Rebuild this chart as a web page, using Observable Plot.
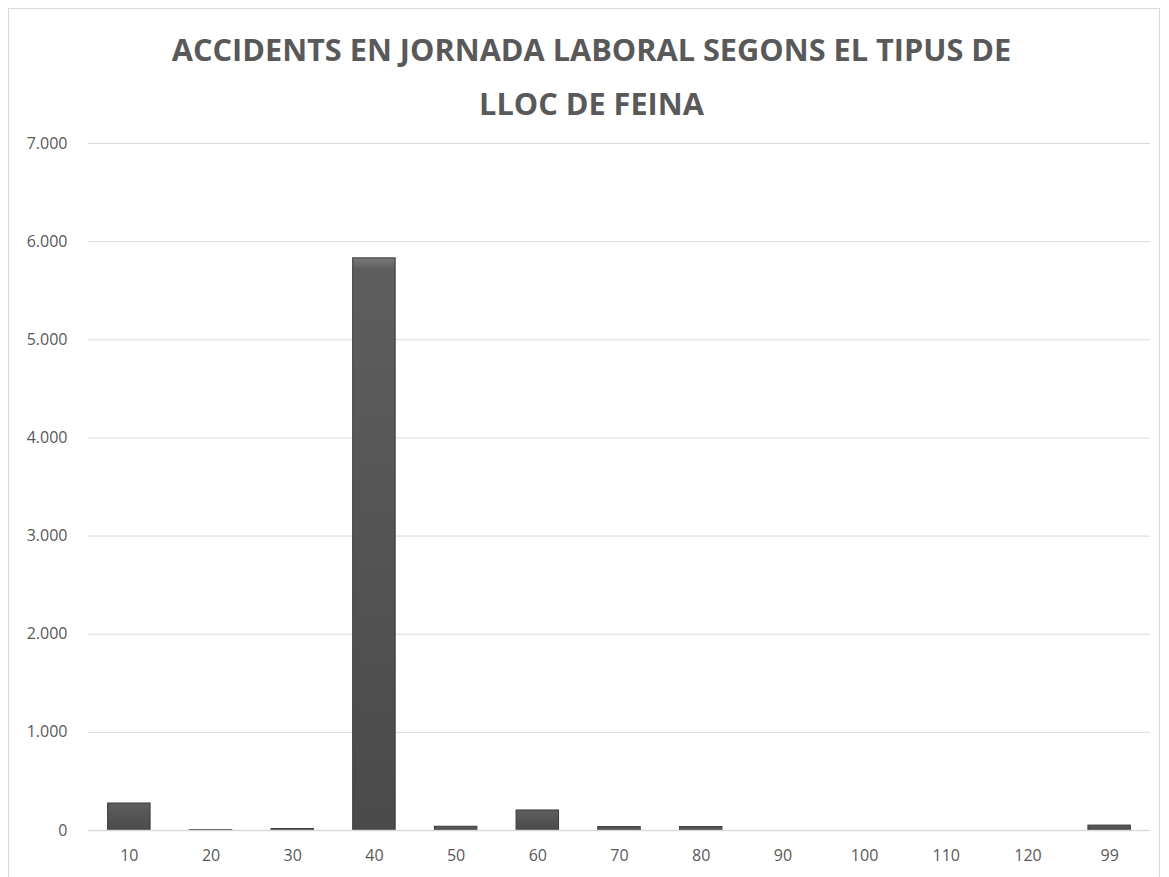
<!DOCTYPE html>
<html>
<head>
<meta charset="utf-8">
<script src="https://cdn.jsdelivr.net/npm/d3@7"></script>
<script src="https://cdn.jsdelivr.net/npm/@observablehq/plot@0.6"></script>
<style>
  html, body { margin: 0; padding: 0; background: #fff; overflow: hidden; }
  #frame { position: absolute; left: 8px; top: 8px; width: 1152px; height: 900px; border: 1px solid #d9d9d9; box-sizing: border-box; }
  #title { position: absolute; left: 7px; top: 22px; width: 1169px; text-align: center; font-family: "Open Sans", sans-serif; font-weight: 700; font-size: 30.7px; line-height: 54px; color: #595959; }
  #chart { position: absolute; left: 0; top: 125px; }
</style>
</head>
<body>
<div id="frame"></div>
<div id="title">ACCIDENTS EN JORNADA LABORAL SEGONS EL TIPUS DE<br>LLOC DE FEINA</div>
<div id="chart"></div>
<script>
const categories = ["10","20","30","40","50","60","70","80","90","100","110","120","99"];
const values = [275, 4, 15, 5830, 38, 204, 35, 35, 0, 0, 0, 0, 50];
const yTicks = [0, 1000, 2000, 3000, 4000, 5000, 6000, 7000];

const data = categories.map((c, i) => ({cat: c, value: values[i]}));
const fmt = d => d3.format(",")(d).replace(/,/g, ".");

const plot = Plot.plot({
  width: 1169,
  height: 752,
  marginLeft: 88,
  marginRight: 19,
  marginTop: 18,
  marginBottom: 47,
  style: { fontFamily: "'Open Sans', sans-serif", fontSize: "16px", color: "#595959", background: "transparent" },
  x: { domain: categories, paddingInner: 0.48, paddingOuter: 0.24, round: false, label: null, tickSize: 0, tickPadding: 19 },
  y: { domain: [0, 7000], ticks: yTicks, tickFormat: fmt, label: null, tickSize: 0, tickPadding: 21 },
  marks: [
    Plot.ruleY(yTicks.filter(d => d > 0), { stroke: "#d9d9d9", strokeWidth: 1 }),
    Plot.barY(data, { x: "cat", y: "value", fill: "url(#barGrad)", stroke: "#3a3a3a", strokeWidth: 1 }),
    Plot.ruleY([0], { stroke: "#d9d9d9", strokeWidth: 1.5 })
  ]
});

const ns = "http://www.w3.org/2000/svg";
const defs = document.createElementNS(ns, "defs");
defs.innerHTML = `<linearGradient id="barGrad" x1="0" y1="0" x2="0" y2="1">
  <stop offset="0" stop-color="#7a7a7a"/>
  <stop offset="0.02" stop-color="#5e5e5e"/>
  <stop offset="1" stop-color="#4a4a4a"/>
</linearGradient>`;
plot.insertBefore(defs, plot.firstChild);
document.getElementById("chart").appendChild(plot);
</script>
</body>
</html>
